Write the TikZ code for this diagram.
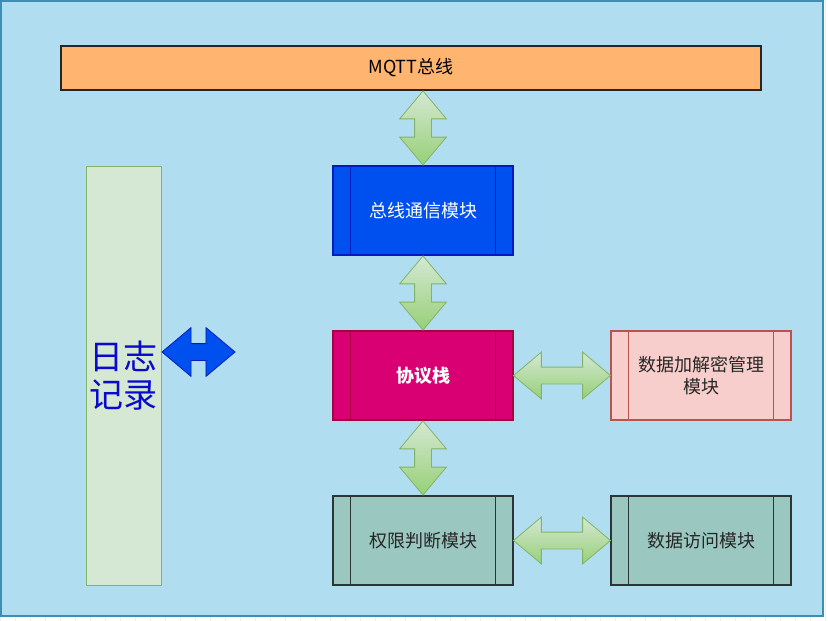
\documentclass[tikz,border=0pt]{standalone}
\usepackage{fontspec}
\setmainfont{Noto Sans CJK SC}
\usetikzlibrary{shapes.arrows}

\definecolor{bgfill}{HTML}{B1DDF0}
\definecolor{bgline}{HTML}{3E8EB4}
\definecolor{busfill}{HTML}{FFB570}
\definecolor{logfill}{HTML}{D5E8D4}
\definecolor{logline}{HTML}{82B366}
\definecolor{logtext}{HTML}{0A0ACC}
\definecolor{commfill}{HTML}{0050EF}
\definecolor{commline}{HTML}{001DBC}
\definecolor{stackfill}{HTML}{D80073}
\definecolor{stackline}{HTML}{A50040}
\definecolor{cryptfill}{HTML}{F8CECC}
\definecolor{cryptline}{HTML}{B85450}
\definecolor{modfill}{HTML}{9AC7BF}
\definecolor{modline}{HTML}{2B3533}
\definecolor{arrowlight}{HTML}{D5E8D4}
\definecolor{arrowdark}{HTML}{97D077}

\tikzset{
  module/.style={rectangle, minimum width=180pt, minimum height=89pt, line width=1.2pt,
    font=\fontsize{18}{22}\selectfont, align=center},
  greenarrow/.style={double arrow, draw=logline, line width=0.8pt,
    top color=arrowlight, bottom color=arrowdark, inner sep=8pt,
    minimum width=46pt, double arrow head extend=15pt, double arrow tip angle=80},
}

\begin{document}
\begin{tikzpicture}[x=1pt, y=-1pt]
    \useasboundingbox (0,0) rectangle (828,621);
    \draw[gray!12, step=15] (0,0) grid (828,621);

    \draw[fill=bgfill, draw=bgline, line width=1.5pt] (0.8,1) rectangle (823,616);

    \node[rectangle, draw=black!85, fill=busfill, line width=1.2pt, minimum width=700pt,
      minimum height=44pt, font=\fontsize{18}{20}\selectfont] (bus) at (411,68) {MQTT总线};

    \node[rectangle, draw=logline, fill=logfill, line width=1pt, minimum width=75pt,
      minimum height=419pt, text=logtext, align=center,
      font=\fontsize{34}{38}\selectfont] (log) at (123.5,375.5) {日志\\记录};

    \node[module, draw=commline, fill=commfill, text=white] (comm) at (423,210.5) {总线通信模块};
    \node[module, draw=stackline, fill=stackfill, text=white] (stack) at (423,375.5) {\textbf{协议栈}};
    \node[module, draw=cryptline, fill=cryptfill, text=black!85] (crypt) at (701,375.5) {数据加解密管理\\模块};
    \node[module, draw=modline, fill=modfill, line width=1.4pt, text=black!85] (perm) at (423,540.5) {权限判断模块};
    \node[module, draw=modline, fill=modfill, line width=1.4pt, text=black!85] (access) at (701,540.5) {数据访问模块};

    \foreach \n/\c in {comm/commline, stack/stackline, crypt/cryptline, perm/modline, access/modline} {
        \draw[draw=\c, line width=1.2pt] ([xshift=18pt]\n.north west) -- ([xshift=18pt]\n.south west);
        \draw[draw=\c, line width=1.2pt] ([xshift=-18pt]\n.north east) -- ([xshift=-18pt]\n.south east);
    }

    % green arrows between the modules
    \node[greenarrow, shape border rotate=90, minimum height=74pt] (buscomm) at (423,128) {};
    \node[greenarrow, shape border rotate=90, minimum height=74pt] (commstack) at (423,293) {};
    \node[greenarrow, shape border rotate=90, minimum height=74pt] (stackperm) at (423,458) {};
    \node[greenarrow, minimum height=97pt] (stackcrypt) at (562,375.5) {};
    \node[greenarrow, minimum height=97pt] (permaccess) at (562,540.5) {};

    \node[double arrow, draw=commline, fill=commfill, line width=0.8pt, inner sep=8pt,
      minimum width=48pt, minimum height=73pt, double arrow head extend=16pt,
      double arrow tip angle=80] (logarrow) at (198.5,352) {};
\end{tikzpicture}
\end{document}
